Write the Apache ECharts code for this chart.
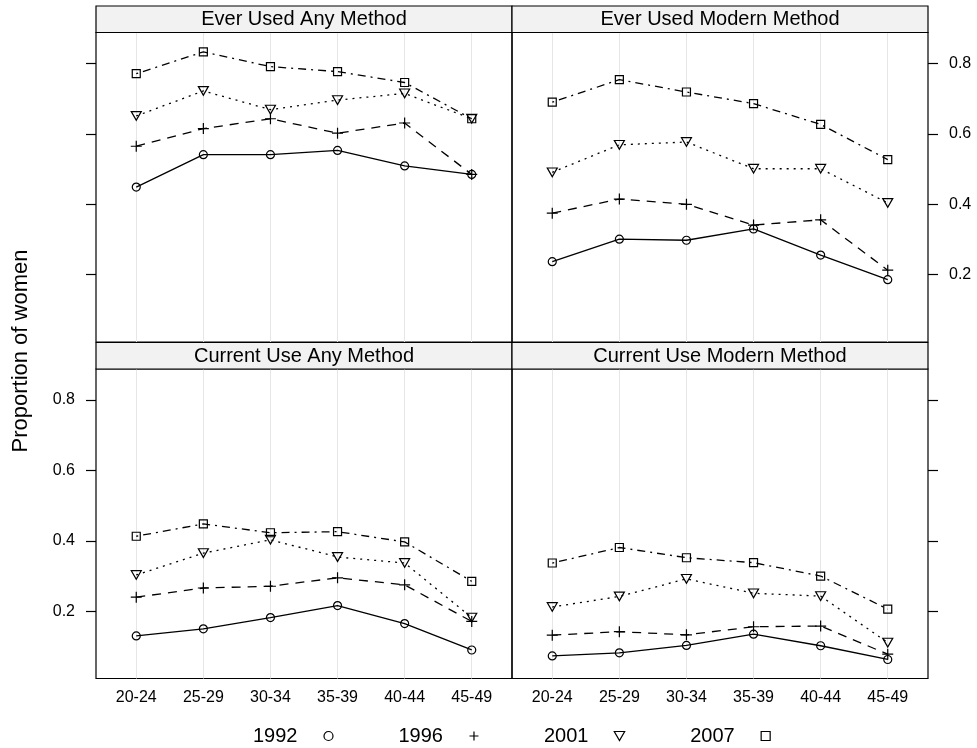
<!DOCTYPE html>
<html><head><meta charset="utf-8">
<script src="https://cdn.jsdelivr.net/npm/echarts@6/dist/echarts.min.js"></script>
<style>html,body{margin:0;padding:0;background:#fff}#c{width:977px;height:748px}</style>
</head><body><div id="c"></div><script>
const ageGroups = ['20-24','25-29','30-34','35-39','40-44','45-49'];
const years = ['1992','1996','2001','2007'];
const panelTitles = ['Ever Used Any Method','Ever Used Modern Method','Current Use Any Method','Current Use Modern Method'];
const yTicks = [0.2, 0.4, 0.6, 0.8];

const everAny1992 = [0.449,0.541,0.541,0.553,0.509,0.485];
const everAny1996 = [0.565,0.615,0.643,0.602,0.631,0.485];
const everAny2001 = [0.651,0.722,0.669,0.696,0.715,0.643];
const everAny2007 = [0.771,0.833,0.791,0.777,0.746,0.643];

const everModern1992 = [0.237,0.301,0.298,0.330,0.256,0.186];
const everModern1996 = [0.375,0.415,0.400,0.341,0.356,0.213];
const everModern2001 = [0.491,0.569,0.577,0.501,0.501,0.404];
const everModern2007 = [0.690,0.754,0.719,0.686,0.627,0.527];

const currAny1992 = [0.130,0.150,0.182,0.216,0.165,0.090];
const currAny1996 = [0.240,0.266,0.271,0.295,0.275,0.171];
const currAny2001 = [0.303,0.365,0.403,0.354,0.337,0.182];
const currAny2007 = [0.413,0.448,0.423,0.426,0.397,0.285];

const currModern1992 = [0.073,0.082,0.103,0.135,0.102,0.063];
const currModern1996 = [0.132,0.142,0.133,0.156,0.158,0.078];
const currModern2001 = [0.212,0.242,0.292,0.251,0.243,0.111];
const currModern2007 = [0.337,0.381,0.352,0.338,0.300,0.206];

const panelData = [
  [everAny1992, everAny1996, everAny2001, everAny2007],
  [everModern1992, everModern1996, everModern2001, everModern2007],
  [currAny1992, currAny1996, currAny2001, currAny2007],
  [currModern1992, currModern1996, currModern2001, currModern2007]
];

const FONT = '"Liberation Sans", Arial, Helvetica, sans-serif';
const PLUS = 'path://M0,5L10,5M5,0L5,10';
const TRI = 'path://M0,0L10,0L5,8.66Z';
const SQ = 'path://M0,0L10,0L10,10L0,10Z';
const symbols = ['circle', PLUS, TRI, SQ];
const symbolSizes = [8, 11, [10, 8.7], 8];
const dashes = ['solid', [9, 7], [2, 5], [2, 5, 8, 5]];

const gridBoxes = [
  {left: 96, top: 32.5},
  {left: 512, top: 32.5},
  {left: 96, top: 369},
  {left: 512, top: 369}
];
const GW = 416, GH = 309.5, STRIP = 26.5;

const grids = gridBoxes.map(g => ({left: g.left, top: g.top, width: GW, height: GH,
  show: true, borderColor: '#000', borderWidth: 1.2, backgroundColor: 'transparent'}));

const xAxes = gridBoxes.map((g, i) => ({
  type: 'value', gridIndex: i, min: 0.4, max: 6.6, splitNumber: 6,
  axisLine: {show: false},
  axisTick: {show: false, customValues: [1,2,3,4,5,6]},
  splitLine: {show: true, lineStyle: {color: '#e6e6e6', width: 1}},
  axisLabel: {show: i >= 2, customValues: [1,2,3,4,5,6], fontSize: 16, color: '#000', fontFamily: FONT, margin: 11,
    formatter: v => (Math.abs(v - Math.round(v)) < 1e-6 && ageGroups[Math.round(v) - 1]) ? ageGroups[Math.round(v) - 1] : ''}
}));

const yAxes = gridBoxes.map((g, i) => ({
  type: 'value', gridIndex: i, min: 0.009, max: 0.888,
  position: (i % 2 === 0) ? 'left' : 'right',
  axisLine: {show: false},
  splitLine: {show: false},
  axisTick: {show: true, length: 10, inside: false, customValues: yTicks, lineStyle: {color: '#000', width: 1.2}},
  axisLabel: {show: i === 1 || i === 2, customValues: yTicks, fontSize: 16, color: '#000', fontFamily: FONT, margin: 21,
    formatter: v => yTicks.some(t => Math.abs(t - v) < 1e-6) ? v.toFixed(1) : ''}
}));

const series = [];
panelData.forEach((sets, p) => {
  sets.forEach((vals, k) => {
    series.push({
      type: 'line', name: years[k], xAxisIndex: p, yAxisIndex: p,
      data: vals.map((v, i) => [i + 1, v]),
      symbol: symbols[k], symbolSize: symbolSizes[k],
      showAllSymbol: true,
      itemStyle: {color: 'none', borderColor: '#000', borderWidth: 1.2},
      lineStyle: {color: '#000', width: 1.3, type: dashes[k]},
      emphasis: {disabled: true},
      silent: true, z: 3
    });
  });
});

const graphics = [];
gridBoxes.forEach((g, i) => {
  graphics.push({type: 'rect', shape: {x: g.left, y: g.top - STRIP, width: GW, height: STRIP},
    style: {fill: '#f2f2f2', stroke: '#000', lineWidth: 1.2}, z: 10});
  graphics.push({type: 'text', x: g.left + GW / 2, y: g.top - STRIP / 2 + 0.5,
    style: {text: panelTitles[i], fill: '#000', font: '20px ' + FONT, align: 'center', verticalAlign: 'middle'}, z: 11});
});
graphics.push({type: 'text', x: 21, y: 351, rotation: Math.PI / 2,
  style: {text: 'Proportion of women', fill: '#000', font: '22px ' + FONT, align: 'center', verticalAlign: 'middle'}});

const chart = echarts.init(document.getElementById('c'), null, {renderer: 'canvas'});
chart.setOption({
  animation: false,
  backgroundColor: '#fff',
  grid: grids,
  xAxis: xAxes,
  yAxis: yAxes,
  series: series,
  graphic: graphics,
  legend: {
    left: 253, top: 726, orient: 'horizontal', padding: 0,
    align: 'right', itemWidth: 52, itemHeight: 9, itemGap: 63,
    selectedMode: false,
    textStyle: {fontSize: 20, color: '#000', fontFamily: FONT},
    itemStyle: {color: 'none', borderColor: '#000', borderWidth: 1.2},
    data: years.map((y, k) => ({name: y, icon: symbols[k]}))
  }
});
</script></body></html>
